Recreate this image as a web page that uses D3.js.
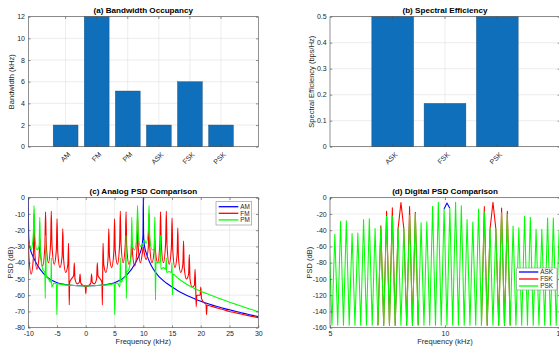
<!DOCTYPE html>
<html><head><meta charset="utf-8">
<script src="https://cdnjs.cloudflare.com/ajax/libs/d3/7.8.5/d3.min.js"></script>
<style>
body{margin:0;background:#fff;}
svg{display:block;font-family:"Liberation Sans",Arial,Helvetica,sans-serif;}
</style></head><body>
<svg id="chart" width="559" height="349"></svg>
<script>
// ---------------- DATA ----------------
const bwCategories = ["AM","FM","PM","ASK","FSK","PSK"];
const bwValues = [2, 12, 5.14, 2, 6, 2];
const bwTicks = [0, 2, 4, 6, 8, 10, 12];

const seCategories = ["ASK","FSK","PSK"];
const seValues = [0.5, 0.1667, 0.5];
const seTicks = [0, 0.1, 0.2, 0.3, 0.4, 0.5];

const analogXTicks = [-10, -5, 0, 5, 10, 15, 20, 25, 30];
const analogYTicks = [0, -10, -20, -30, -40, -50, -60, -70, -80];
const digitalXTicks = [5, 10, 15];
const digitalYTicks = [0, -20, -40, -60, -80, -100, -120, -140, -160];

const analogSeries = ["AM", "FM", "PM"];
const digitalSeries = ["ASK", "FSK", "PSK"];

// AM PSD [kHz, dB]
const amPsd = [[-10,0],[-9.95,-22],[-9.85,-28],[-9.7,-31],[-9.5,-33.5],[-9.2,-36],[-9,-37.5],[-8.5,-41],[-8,-43.8],[-7.5,-46],[-7,-48],[-6.5,-49.5],[-6,-50.7],[-5,-52.3],[-4,-53.2],[-3,-53.7],[-2,-54],[-1,-54.2],[0,-54.3],[1,-54.2],[2,-54],[3,-53.7],[4,-53.2],[5,-52.3],[6,-50.7],[6.5,-49.5],[7,-48],[7.5,-46],[8,-43.8],[8.5,-41],[9,-37.5],[9.2,-36],[9.5,-33.5],[9.7,-31],[9.85,-28],[9.95,-22],[10,0],[10.05,-22],[10.15,-28],[10.3,-31.5],[10.5,-34],[10.8,-37],[11,-38.8],[11.5,-42.5],[12,-45.3],[12.5,-47.6],[13,-49.5],[14,-52.5],[15,-55],[16,-57.2],[17,-59.1],[18,-60.8],[19,-62.3],[20,-63.7],[21,-65],[22,-66.1],[23,-67.1],[24,-68.1],[25,-69],[26,-69.9],[27,-70.8],[28,-71.6],[29,-72.4],[30,-73.2]];

// FM PSD [kHz, dB]
const fmPsd = [[-10,-27],[-9.88,-37],[-9.5,-47],[-9.12,-37],[-9,-10],[-8.88,-33],[-8.5,-44],[-8.12,-36],[-8,-25],[-7.88,-34],[-7.5,-42],[-7.12,-30],[-7,-8.7],[-6.88,-28],[-6.5,-40],[-6.12,-28],[-6,-8.3],[-5.88,-29],[-5.5,-41],[-5.12,-32],[-5,-13],[-4.88,-33],[-4.5,-43],[-4.12,-36],[-4,-19],[-3.88,-37],[-3.5,-46],[-3.12,-41],[-3,-28],[-2.94,-45],[-2.88,-66],[-2.8,-52],[-2.5,-50],[-2.12,-48],[-2,-40],[-1.88,-50],[-1.5,-53],[-1.12,-52],[-1,-47],[-0.88,-52.5],[-0.5,-54],[-0.1,-54.5],[0,-59],[0.1,-54.5],[0.5,-54],[0.88,-52.5],[1,-47],[1.12,-52],[1.5,-53],[1.88,-50],[2,-40],[2.12,-48],[2.5,-50],[2.8,-52],[2.88,-66],[2.94,-45],[3,-28],[3.12,-41],[3.5,-46],[3.88,-37],[4,-19],[4.12,-36],[4.5,-43],[4.88,-33],[5,-13],[5.12,-32],[5.5,-41],[5.88,-29],[6,-8.3],[6.12,-28],[6.5,-40],[6.88,-28],[7,-8.7],[7.12,-30],[7.5,-41],[7.88,-35],[8,-25],[8.12,-34],[8.5,-42],[8.88,-33],[9,-10],[9.12,-30],[9.5,-40],[9.88,-33],[10,-30],[10.12,-33],[10.5,-38],[10.88,-30],[11,-10],[11.12,-30],[11.5,-40],[11.88,-33],[12,-25],[12.12,-33],[12.5,-40],[12.88,-28],[13,-8.7],[13.12,-28],[13.5,-40],[13.88,-28],[14,-8.3],[14.12,-29],[14.5,-41],[14.88,-31],[15,-12.5],[15.12,-32],[15.5,-43],[15.88,-35],[16,-18.5],[16.12,-37],[16.5,-46],[16.88,-41],[17,-26.5],[17.12,-43],[17.5,-50],[17.88,-47],[18,-35],[18.12,-50],[18.5,-55],[18.88,-54],[19,-44],[19.12,-56],[19.2,-67],[19.3,-60],[19.6,-60],[19.88,-60],[20,-55],[20.12,-62],[20.5,-64.5],[20.9,-65.5],[21,-72],[21.1,-66],[21.5,-66.5],[22,-67],[23,-68],[24,-69],[25,-70],[26,-70.8],[27,-71.6],[28,-72.4],[29,-73.1],[30,-73.8]];

// PM PSD [kHz, dB]
const pmPsd = [[-10,-28],[-9.88,-28],[-9.5,-32],[-9.12,-22],[-9,-4.9],[-8.88,-22],[-8.5,-32],[-8.12,-30],[-8,-12],[-7.88,-34],[-7.5,-44],[-7.12,-46],[-7.04,-62],[-7,-23.2],[-6.88,-48],[-6.5,-50],[-6.12,-52],[-6.04,-48],[-6,-37],[-5.94,-55],[-5.5,-52.5],[-5.12,-53],[-5.03,-72],[-4.95,-53],[-4.5,-53.2],[-4,-53.5],[-3,-53.8],[-2,-54],[-1,-54.2],[0,-54.3],[1,-54.2],[2,-54],[3,-53.8],[4,-53.5],[4.5,-53.2],[4.95,-53],[5.03,-72],[5.12,-53],[5.5,-52.5],[5.94,-55],[6,-37],[6.04,-48],[6.12,-52],[6.5,-50],[6.88,-48],[7,-23.2],[7.04,-62],[7.12,-46],[7.5,-44],[7.88,-34],[8,-12],[8.12,-30],[8.5,-32],[8.88,-22],[9,-4.9],[9.12,-22],[9.5,-30],[9.88,-28],[10,-30],[10.12,-26],[10.5,-28],[10.88,-20],[11,-4.9],[11.12,-24],[11.5,-32],[11.88,-32],[12,-12],[12.06,-36],[12.12,-63],[12.2,-40],[12.5,-40],[12.88,-40],[13,-23.2],[13.06,-44],[13.5,-43],[13.88,-44],[14,-37],[14.06,-46],[14.5,-45.5],[14.88,-46],[15,-40],[15.06,-60],[15.15,-47],[16,-49.5],[17,-52],[18,-54.2],[19,-56],[20,-57.6],[21,-59],[22,-60.4],[23,-61.7],[24,-63],[25,-64.3],[26,-65.5],[27,-66.7],[28,-67.9],[29,-69],[30,-70.2]];

// Digital PSD sample frequencies (kHz) and levels (dB)
const digFreq = [4.96,5.085,5.21,5.335,5.46,5.585,5.71,5.835,5.96,6.085,6.21,6.335,6.46,6.585,6.71,6.835,6.96,7.085,7.21,7.335,7.46,7.585,7.71,7.835,7.96,8.085,8.21,8.335,8.46,8.585,8.71,8.835,8.96,9.085,9.21,9.335,9.46,9.585,9.71,9.835,9.96,10.085,10.21,10.335,10.46,10.585,10.71,10.835,10.96,11.085,11.21,11.335,11.46,11.585,11.71,11.835,11.96,12.085,12.21,12.335,12.46,12.585,12.71,12.835,12.96,13.085,13.21,13.335,13.46,13.585,13.71,13.835,13.96,14.085,14.21,14.335,14.46,14.585,14.71,14.835,14.96,15.085];
const askDb = [-50,-157,-45,-157,-29,-157,-28.5,-157,-44,-157,-43.5,-157,-27,-157,-26,-157,-38,-157,-36,-157,-23,-157,-22.5,-157,-38,-157,-38,-157,-21.5,-157,-19.5,-157,-31,-157,-29.5,-157,-10.6,-157,-5.7,-157,-14,-6.5,-13,-157,-5.7,-157,-9.8,-157,-27,-157,-30,-157,-14,-157,-17,-157,-38,-157,-38,-157,-18.7,-157,-20.7,-157,-35,-157,-37,-157,-23,-157,-24,-157,-39,-157,-39,-157,-25,-157,-25,-157,-42,-157];
const fskDb = [-50,-157,-45,-157,-29,-157,-28.5,-157,-44,-157,-43.5,-157,-27,-157,-26,-157,-38,-157,-34.5,-157,-16.8,-157,-12.3,-157,-38,-6,-38,-157,-11,-157,-18,-157,-31,-157,-29.5,-157,-10.6,-157,-5.7,-157,-14,-157,-13,-157,-5.7,-157,-9.8,-157,-27,-157,-30,-157,-14,-157,-11,-157,-38,-5.7,-38,-157,-12.6,-157,-16.6,-157,-35,-157,-37,-157,-23,-157,-24,-157,-39,-157,-39,-157,-25,-157,-25,-157,-42,-157];
const pskDb = [-50,-157,-45,-157,-29,-157,-28.5,-157,-44,-157,-43.5,-157,-27,-157,-26,-157,-38,-157,-36,-157,-23,-157,-22.5,-157,-38,-157,-38,-157,-21.5,-157,-19.5,-157,-31,-157,-29.5,-157,-10.6,-157,-5.7,-157,-14,-157,-13,-157,-5.7,-157,-9.8,-157,-27,-157,-30,-157,-14,-157,-17,-157,-38,-157,-38,-157,-18.7,-157,-20.7,-157,-35,-157,-37,-157,-23,-157,-24,-157,-39,-157,-39,-157,-25,-157,-25,-157,-42,-157];

// ---------------- STYLE ----------------
const FONT = '"Liberation Sans",Arial,Helvetica,sans-serif';
const gridColor = "#e1e1e1";
const axisColor = "#4a4a4a";
const textColor = "#262626";
const barColor = "#0f6fba";
const tickLen = 2.3;
const colors = {AM:"#0000ff", FM:"#ff0000", PM:"#00ff00", ASK:"#0000ff", FSK:"#ff0000", PSK:"#00ff00"};

const svg = d3.select("#chart");

function styleAxis(a, fs){
  a.select(".domain").remove();
  a.selectAll("line").attr("stroke", axisColor).attr("stroke-width", 0.6);
  a.selectAll("text").attr("fill", textColor).style("font-size", fs + "px").style("font-family", FONT);
}

function gridAndFrame(box, xPos, xGrid, y, yGrid){
  const g = svg.append("g");
  g.append("rect").attr("x", box.l).attr("y", box.t).attr("width", box.r - box.l).attr("height", box.b - box.t).attr("fill", "#fff");
  g.selectAll(null).data(xGrid).join("line")
    .attr("x1", d => xPos(d)).attr("x2", d => xPos(d)).attr("y1", box.t).attr("y2", box.b)
    .attr("stroke", gridColor).attr("stroke-width", 0.6);
  g.selectAll(null).data(yGrid).join("line")
    .attr("x1", box.l).attr("x2", box.r).attr("y1", d => y(d)).attr("y2", d => y(d))
    .attr("stroke", gridColor).attr("stroke-width", 0.6);
  return g;
}

function finishAxes(box, x, y, xTicks, yTicks, yFmt, rotateX){
  const g = svg.append("g");
  g.append("g").attr("transform", `translate(${box.l},0)`)
    .call(d3.axisLeft(y).tickValues(yTicks).tickFormat(yFmt).tickSize(-tickLen).tickPadding(3.3))
    .call(a => styleAxis(a, 7));
  g.append("g").attr("transform", `translate(${box.r},0)`)
    .call(d3.axisRight(y).tickValues(yTicks).tickFormat("").tickSize(-tickLen))
    .call(a => styleAxis(a, 7));
  const xb = g.append("g").attr("transform", `translate(0,${box.b})`)
    .call((x.bandwidth ? d3.axisBottom(x) : d3.axisBottom(x).tickValues(xTicks).tickFormat(d => String(d))).tickSize(-tickLen).tickPadding(3.5))
    .call(a => styleAxis(a, 7));
  if (rotateX){
    xb.selectAll("text").attr("x", 0).attr("y", 0).attr("dy", "0.35em")
      .attr("transform", "translate(3.5,6.5) rotate(-45)").style("text-anchor", "end");
  }
  g.append("g").attr("transform", `translate(0,${box.t})`)
    .call((x.bandwidth ? d3.axisTop(x) : d3.axisTop(x).tickValues(xTicks)).tickFormat("").tickSize(-tickLen))
    .call(a => styleAxis(a, 7));
  g.append("rect").attr("x", box.l).attr("y", box.t).attr("width", box.r - box.l).attr("height", box.b - box.t)
    .attr("fill", "none").attr("stroke", axisColor).attr("stroke-width", 0.6);
}

function title(box, txt){
  svg.append("text").attr("x", (box.l + box.r) / 2).attr("y", box.t - 3.4)
    .attr("text-anchor", "middle").attr("font-weight", "bold").attr("font-size", 8.1)
    .attr("fill", "#000").text(txt);
}
function ylabel(x, box, txt){
  svg.append("text").attr("transform", `translate(${x},${(box.t + box.b) / 2}) rotate(-90)`)
    .attr("text-anchor", "middle").attr("font-size", 7.5).attr("fill", textColor).text(txt);
}
function xlabel(y, box, txt){
  svg.append("text").attr("x", (box.l + box.r) / 2).attr("y", y)
    .attr("text-anchor", "middle").attr("font-size", 7.5).attr("fill", textColor).text(txt);
}

function legend(box, names, lineX0, lineX1, textX, ys){
  const g = svg.append("g");
  g.append("rect").attr("x", box.l).attr("y", box.t).attr("width", box.r - box.l).attr("height", box.b - box.t)
    .attr("fill", "#fff").attr("stroke", "#8a8a8a").attr("stroke-width", 0.6);
  names.forEach((n, i) => {
    g.append("line").attr("x1", lineX0).attr("x2", lineX1).attr("y1", ys[i]).attr("y2", ys[i])
      .attr("stroke", colors[n]).attr("stroke-width", 1.3);
    g.append("text").attr("x", textX).attr("y", ys[i] + 2.3).attr("font-size", 6.4).attr("fill", textColor).text(n);
  });
}

// ---------------- (a) Bandwidth Occupancy ----------------
{
  const box = {l:28.3, r:258.3, t:16.7, b:146.7};
  const x = d3.scaleBand().domain(bwCategories).range([box.l, box.r]).paddingInner(0.2).paddingOuter(0.8);
  const y = d3.scaleLinear().domain([0, 12]).range([box.b, box.t]);
  const xc = d => x(d) + x.bandwidth() / 2;
  const g = gridAndFrame(box, xc, bwCategories, y, bwTicks);
  g.selectAll(null).data(bwCategories).join("rect")
    .attr("x", d => x(d)).attr("width", x.bandwidth())
    .attr("y", (d, i) => y(bwValues[i])).attr("height", (d, i) => y(0) - y(bwValues[i]))
    .attr("fill", barColor).attr("stroke", "#1b4f7a").attr("stroke-width", 0.4);
  finishAxes(box, x, y, null, bwTicks, d => String(d), true);
  title(box, "(a) Bandwidth Occupancy");
  ylabel(14.4, box, "Bandwidth (kHz)");
}

// ---------------- (b) Spectral Efficiency ----------------
{
  const box = {l:330, r:560, t:16.7, b:146.7};
  const x = d3.scaleBand().domain(seCategories).range([box.l, box.r]).paddingInner(0.2).paddingOuter(0.8);
  const y = d3.scaleLinear().domain([0, 0.5]).range([box.b, box.t]);
  const xc = d => x(d) + x.bandwidth() / 2;
  const g = gridAndFrame(box, xc, seCategories, y, seTicks);
  g.selectAll(null).data(seCategories).join("rect")
    .attr("x", d => x(d)).attr("width", x.bandwidth())
    .attr("y", (d, i) => y(seValues[i])).attr("height", (d, i) => y(0) - y(seValues[i]))
    .attr("fill", barColor).attr("stroke", "#1b4f7a").attr("stroke-width", 0.4);
  finishAxes(box, x, y, null, seTicks, d => String(d), true);
  title(box, "(b) Spectral Efficiency");
  ylabel(314.2, box, "Spectral Efficiency (bps/Hz)");
}

// ---------------- (c) Analog PSD ----------------
{
  const box = {l:28.3, r:258.3, t:197.7, b:327.7};
  const x = d3.scaleLinear().domain([-10, 30]).range([box.l, box.r]);
  const y = d3.scaleLinear().domain([-80, 0]).range([box.b, box.t]);
  gridAndFrame(box, x, analogXTicks, y, analogYTicks);
  svg.append("clipPath").attr("id", "clipC").append("rect")
    .attr("x", box.l).attr("y", box.t - 1).attr("width", box.r - box.l).attr("height", box.b - box.t + 1);
  const line = d3.line().x(d => x(d[0])).y(d => y(d[1])).curve(d3.curveMonotoneX);
  const lg = svg.append("g").attr("clip-path", "url(#clipC)");
  [amPsd, fmPsd, pmPsd].forEach((s, i) => {
    lg.append("path").attr("d", line(s)).attr("fill", "none")
      .attr("stroke", colors[analogSeries[i]]).attr("stroke-width", 1.1).attr("stroke-linejoin", "round");
  });
  finishAxes(box, x, y, analogXTicks, analogYTicks, d => String(d), false);
  title(box, "(c) Analog PSD Comparison");
  ylabel(12.8, box, "PSD (dB)");
  xlabel(343.6, box, "Frequency (kHz)");
  legend({l:216, r:251.7, t:201.7, b:225}, analogSeries, 218.7, 238.3, 240.3, [206.7, 213.3, 219.9]);
}

// ---------------- (d) Digital PSD ----------------
{
  const box = {l:330, r:560, t:197.7, b:327.7};
  const x = d3.scaleLinear().domain([5, 15]).range([box.l, box.r]);
  const y = d3.scaleLinear().domain([-160, 0]).range([box.b, box.t]);
  gridAndFrame(box, x, digitalXTicks, y, digitalYTicks);
  svg.append("clipPath").attr("id", "clipD").append("rect")
    .attr("x", box.l).attr("y", box.t - 1).attr("width", box.r - box.l).attr("height", box.b - box.t + 1);
  const lg = svg.append("g").attr("clip-path", "url(#clipD)");
  // ASK and FSK lie under PSK (drawn last); only the parts where they differ can be seen,
  // so their lines are drawn where they depart from the PSK samples.
  const seriesDb = [askDb, fskDb, pskDb];
  seriesDb.forEach((s, i) => {
    const pts = digFreq.map((f, k) => [f, s[k], k]);
    const differs = k => k >= 0 && k < s.length && s[k] !== pskDb[k];
    const line = d3.line().x(d => x(d[0])).y(d => y(d[1]))
      .defined(d => i === 2 || differs(d[2]) || differs(d[2] - 1) || differs(d[2] + 1));
    lg.append("path").attr("d", line(pts)).attr("fill", "none")
      .attr("stroke", colors[digitalSeries[i]]).attr("stroke-width", 1.05).attr("stroke-linejoin", "round");
  });
  finishAxes(box, x, y, digitalXTicks, digitalYTicks, d => String(d), false);
  title(box, "(d) Digital PSD Comparison");
  ylabel(312, box, "PSD (dB)");
  xlabel(343.6, box, "Frequency (kHz)");
  legend({l:516.7, r:557, t:268, b:290}, digitalSeries, 519, 538.3, 540.2, [272, 279, 286]);
}
</script>
</body></html>
